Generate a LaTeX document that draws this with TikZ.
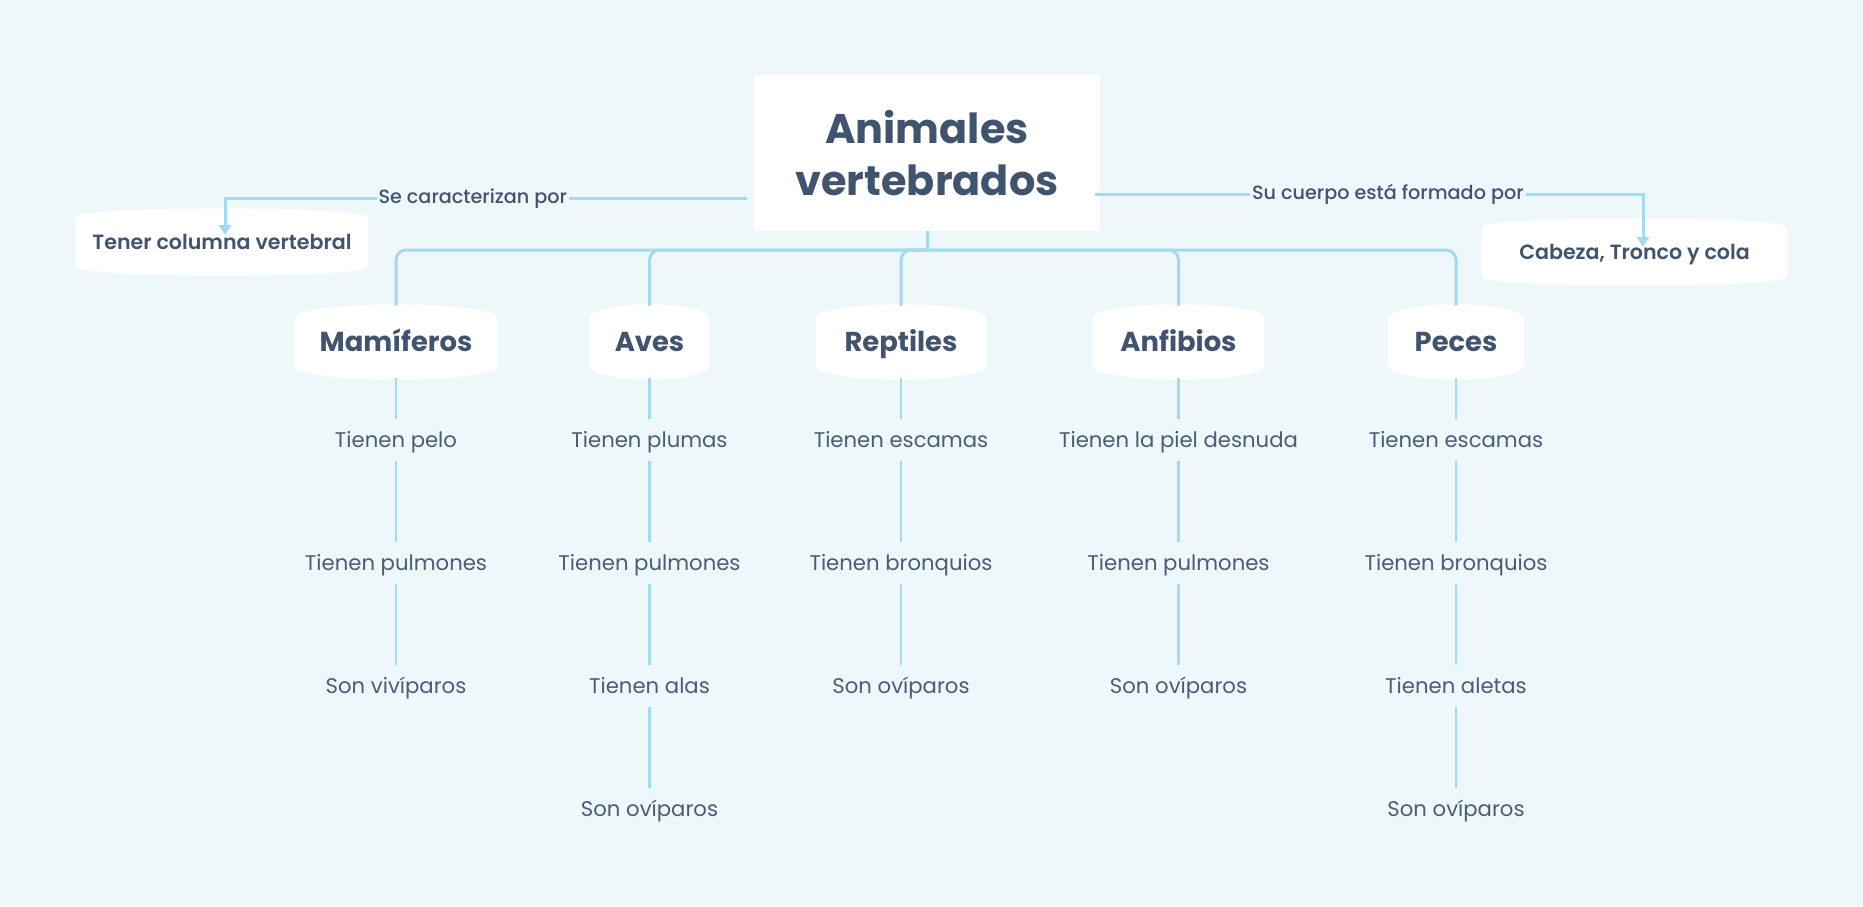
\documentclass[tikz,border=0pt]{standalone}
\usepackage{fontspec}
\setmainfont{Poppins}
\newfontfamily\medfont{Poppins Medium}
\newfontfamily\semifont{Poppins SemiBold}
\usetikzlibrary{arrows.meta,calc,backgrounds}
\definecolor{bgc}{HTML}{EEF7FA}
\definecolor{linec}{HTML}{A3DAEE}
\definecolor{txt}{HTML}{41546F}
\definecolor{txtl}{HTML}{4B5C77}
% blob shape behind a node: #1 node, #2 side inset (px); corners rounded by a round-joined white stroke
\newcommand\myblob[2]{%
  \filldraw[white, line width=5pt, line join=round]
    ($(#1.north west)+(5,#2)$) -- ($(#1.south west)+(5,-#2)$)
    .. controls ($(#1.south west)!0.18!(#1.south east)+(0,#2/3-5)$) and ($(#1.south west)!0.82!(#1.south east)+(0,#2/3-5)$) .. ($(#1.south east)+(-5,-#2)$)
    -- ($(#1.north east)+(-5,#2)$)
    .. controls ($(#1.north west)!0.82!(#1.north east)+(0,-#2/3+5)$) and ($(#1.north west)!0.18!(#1.north east)+(0,-#2/3+5)$) .. ($(#1.north west)+(5,#2)$) -- cycle;}
\tikzset{
 conn/.style={draw=linec, line width=1.5pt},
 child/.style={draw=linec, line width=1.25pt},
 arr/.style={conn,-{Triangle[width=6pt,length=5pt]}},
 cat/.style={inner xsep=4pt, inner ysep=0pt, minimum height=36pt, text height=9.6pt, text depth=0pt, font=\bfseries\fontsize{13.7}{16}\selectfont, text=txt},
 leaf/.style={anchor=base, inner xsep=2pt, inner ysep=4pt, text height=10pt, text depth=3pt, font=\fontsize{10.6}{13}\selectfont, text=txtl},
 side/.style={inner sep=0pt, minimum height=32pt, text height=7.3pt, text depth=0pt, font=\semifont\fontsize{10.3}{12}\selectfont, text=txt},
 elabel/.style={fill=bgc, inner xsep=1pt, inner ysep=2pt, font=\medfont\fontsize{9.6}{12}\selectfont, text=txt},
 rootbox/.style={fill=white, inner sep=0pt, minimum width=173pt, minimum height=78pt, align=center, font=\bfseries\fontsize{20.7}{26.35}\selectfont, text=txt},
}
\begin{document}
\begin{tikzpicture}[x=0.5pt,y=-0.5pt]
\useasboundingbox (0,0) rectangle (1863,906);
% main nodes
\node[rootbox] (root) at (927,153) {Animales\\vertebrados};
\node[side, minimum width=146pt] (tener) at (222,242) {Tener columna vertebral};
\node[side, minimum width=152.5pt] (cabeza) at (1634.5,252) {Cabeza, Tronco y cola};
\node[cat, minimum width=101pt] (mam) at (396,342) {Mamíferos};
\node[cat, minimum width=59.5pt] (ave) at (649.5,342) {Aves};
\node[cat, minimum width=84.5pt] (rep) at (901,342) {Reptiles};
\node[cat, minimum width=85.5pt] (anf) at (1178.5,342) {Anfibios};
\node[cat, minimum width=67.5pt] (pez) at (1456,342) {Peces};
% leaves
\node[leaf] (m1) at (396,447) {Tienen pelo};
\node[leaf] (m2) at (396,570) {Tienen pulmones};
\node[leaf] (m3) at (396,693) {Son vivíparos};
\node[leaf] (a1) at (649.5,447) {Tienen plumas};
\node[leaf] (a2) at (649.5,570) {Tienen pulmones};
\node[leaf] (a3) at (649.5,693) {Tienen alas};
\node[leaf] (a4) at (649.5,816) {Son ovíparos};
\node[leaf] (r1) at (901,447) {Tienen escamas};
\node[leaf] (r2) at (901,570) {Tienen bronquios};
\node[leaf] (r3) at (901,693) {Son ovíparos};
\node[leaf] (f1) at (1178.5,447) {Tienen la piel desnuda};
\node[leaf] (f2) at (1178.5,570) {Tienen pulmones};
\node[leaf] (f3) at (1178.5,693) {Son ovíparos};
\node[leaf] (p1) at (1456,447) {Tienen escamas};
\node[leaf] (p2) at (1456,570) {Tienen bronquios};
\node[leaf] (p3) at (1456,693) {Tienen aletas};
\node[leaf] (p4) at (1456,816) {Son ovíparos};
% background and shapes
\begin{scope}[on background layer]
\fill[bgc] (0,0) rectangle (1863,906);
\myblob{tener}{10}
\myblob{cabeza}{10}
\myblob{mam}{13}
\myblob{ave}{13}
\myblob{rep}{13}
\myblob{anf}{13}
\myblob{pez}{13}
\end{scope}
% tree connectors
\coordinate (bus) at (927,250);
\draw[conn] (root.south) -- (bus);
\foreach \c in {mam,ave,rep,anf,pez}
  \draw[conn, rounded corners=5pt] (bus) -| (\c.north);
\draw[child] (mam.south) -- (m1.north) (m1.south) -- (m2.north) (m2.south) -- (m3.north);
\draw[child] (ave.south) -- (a1.north) (a1.south) -- (a2.north) (a2.south) -- (a3.north) (a3.south) -- (a4.north);
\draw[child] (rep.south) -- (r1.north) (r1.south) -- (r2.north) (r2.south) -- (r3.north);
\draw[child] (anf.south) -- (f1.north) (f1.south) -- (f2.north) (f2.south) -- (f3.north);
\draw[child] (pez.south) -- (p1.north) (p1.south) -- (p2.north) (p2.south) -- (p3.north) (p3.south) -- (p4.north);
% labelled arrows
\draw[arr] ($(root.north west)+(-7,124)$) -| ($(tener.center)+(3,-7)$)
  node[elabel, pos=0.2625] {Se caracterizan por};
\draw[arr] ($(root.north east)+(-5,120)$) -| ($(cabeza.center)+(8.5,-5)$)
  node[elabel, pos=0.267] {Su cuerpo está formado por};
\end{tikzpicture}
\end{document}
